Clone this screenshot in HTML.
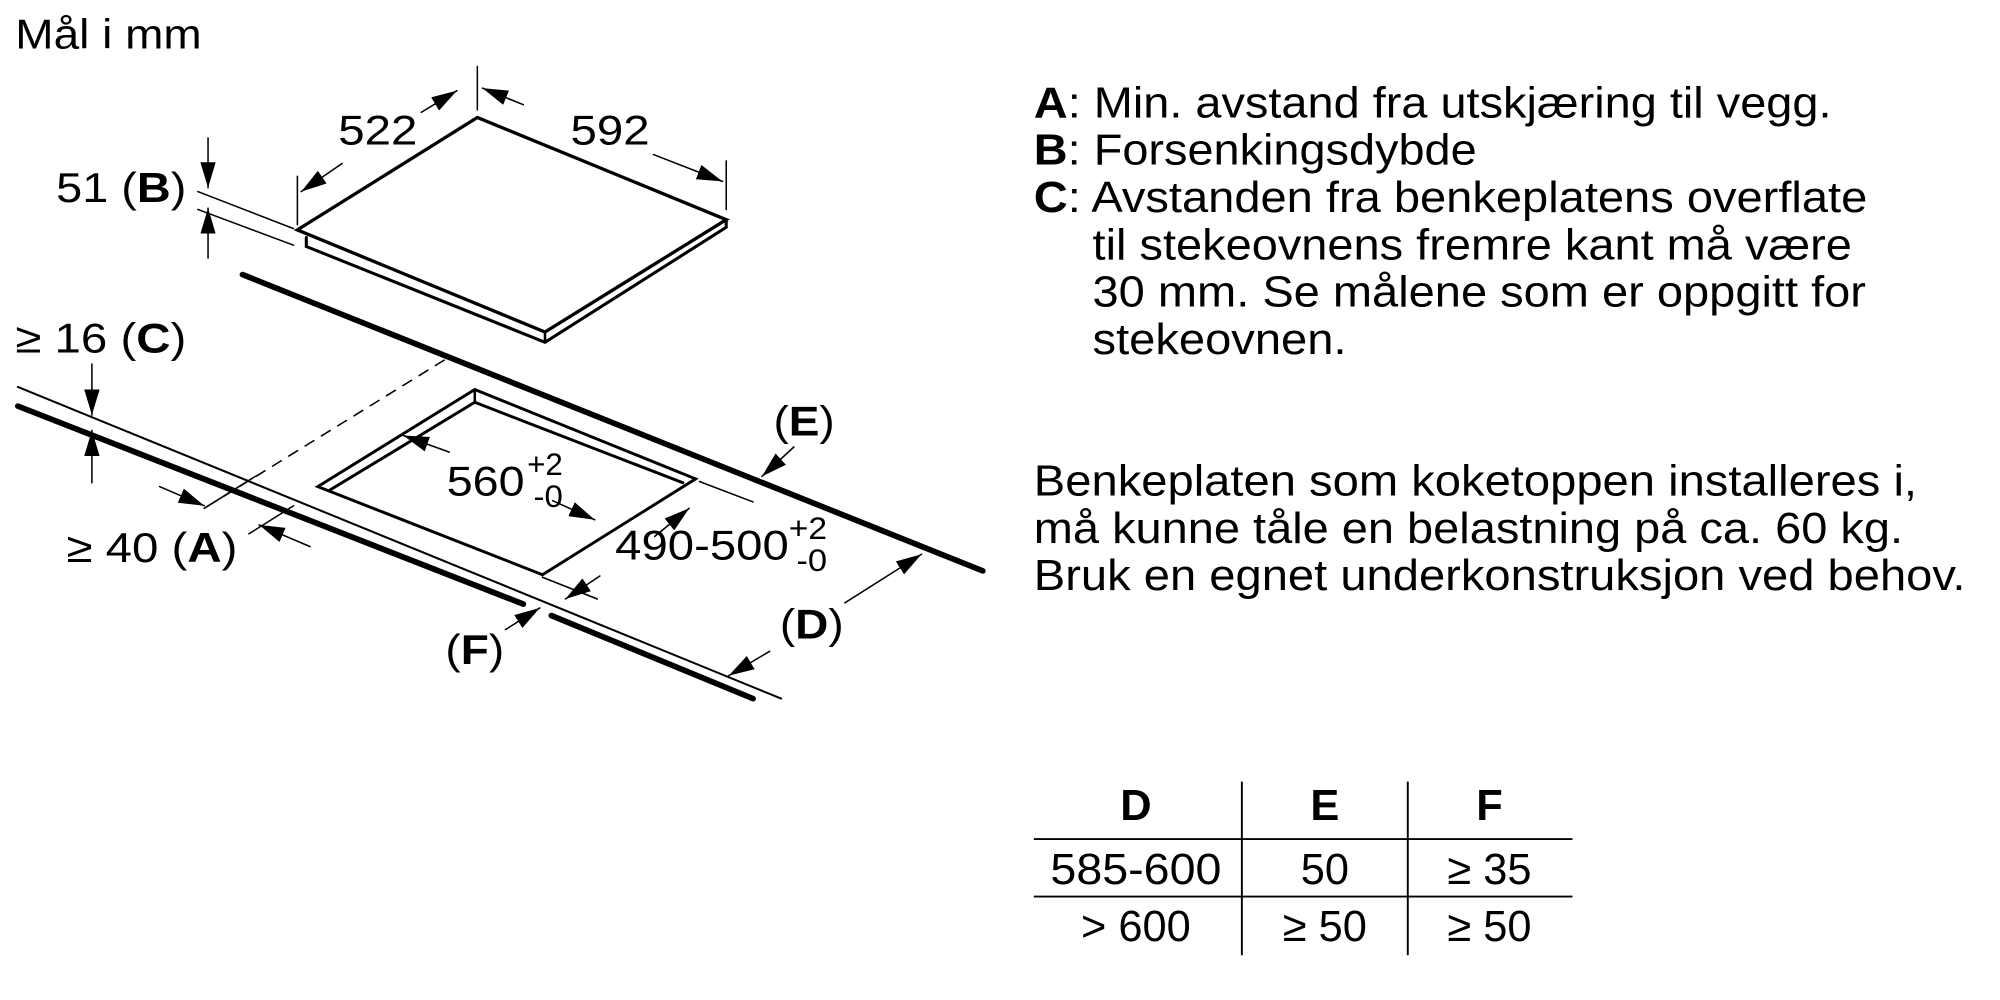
<!DOCTYPE html>
<html><head><meta charset="utf-8"><style>
html,body{margin:0;padding:0;background:#fff;width:2000px;height:1000px;overflow:hidden}
svg{display:block}
text{font-family:"Liberation Sans",Arial,sans-serif;fill:#000}
</style></head><body>
<svg width="2000" height="1000" viewBox="0 0 1567 783" preserveAspectRatio="none" xmlns="http://www.w3.org/2000/svg">
<defs>
<marker id="ab" viewBox="0 0 20 12" refX="20" refY="6" markerWidth="20" markerHeight="12" orient="auto" markerUnits="userSpaceOnUse"><path d="M0,0 L20,6 L0,12 z" fill="#000"/></marker>
</defs>
<g stroke="#000" fill="none" stroke-linecap="round">
<polygon points="233,180 374,92 569,172 427,260" stroke-width="2.6" fill="#fff"/>
<polyline points="240,186 240,193 427,268 569,178 569,172" stroke-width="2.4"/>
<line x1="427" y1="260" x2="427" y2="268" stroke-width="2"/>
<line x1="190" y1="215" x2="770" y2="447" stroke-width="4.5"/>
<line x1="14" y1="303" x2="612" y2="547" stroke-width="1.6"/>
<line x1="14" y1="318" x2="410" y2="473" stroke-width="4.5"/>
<line x1="432" y1="482" x2="590" y2="547" stroke-width="4.5"/>
<polygon points="249,381 372,305 545,375 425,450" stroke-width="2.3"/>
<polyline points="258,384 372,315 535,378" stroke-width="2.3"/>
<line x1="372" y1="305" x2="372" y2="315" stroke-width="2"/>
<line x1="348" y1="282" x2="160" y2="398" stroke-width="1.2" stroke-dasharray="8,7"/>
<line x1="374" y1="52" x2="374" y2="86" stroke-width="1.2"/>
<line x1="233" y1="138" x2="233" y2="176" stroke-width="1.2"/>
<line x1="569" y1="126" x2="569" y2="164" stroke-width="1.2"/>
<line x1="155" y1="150" x2="230" y2="179" stroke-width="1.2"/>
<line x1="155" y1="164" x2="230" y2="192" stroke-width="1.2"/>
<line x1="160" y1="398" x2="200" y2="373" stroke-width="1.2"/>
<line x1="195" y1="418" x2="230" y2="396" stroke-width="1.2"/>
<line x1="548" y1="377" x2="590" y2="393" stroke-width="1.2"/>
<line x1="425" y1="452" x2="468" y2="469" stroke-width="1.2"/>
<g stroke-width="1.2">
<line x1="330" y1="88" x2="358" y2="71" marker-end="url(#ab)"/>
<line x1="268" y1="128" x2="236" y2="150" marker-end="url(#ab)"/>
<line x1="410" y1="82" x2="378" y2="69" marker-end="url(#ab)"/>
<line x1="512" y1="121" x2="566" y2="142" marker-end="url(#ab)"/>
<line x1="163" y1="108" x2="163" y2="147" marker-end="url(#ab)"/>
<line x1="163" y1="202" x2="163" y2="163" marker-end="url(#ab)"/>
<line x1="72" y1="285" x2="72" y2="325" marker-end="url(#ab)"/>
<line x1="72" y1="378" x2="72" y2="337" marker-end="url(#ab)"/>
<line x1="125" y1="381" x2="160" y2="396" marker-end="url(#ab)"/>
<line x1="243" y1="428" x2="203" y2="411" marker-end="url(#ab)"/>
<line x1="352" y1="354" x2="316" y2="341" marker-end="url(#ab)"/>
<line x1="433" y1="392" x2="466" y2="407" marker-end="url(#ab)"/>
<line x1="513" y1="420" x2="540" y2="398" marker-end="url(#ab)"/>
<line x1="470" y1="451" x2="443" y2="469" marker-end="url(#ab)"/>
<line x1="622" y1="350" x2="597" y2="373" marker-end="url(#ab)"/>
<line x1="662" y1="472" x2="722" y2="434" marker-end="url(#ab)"/>
<line x1="603" y1="510" x2="571" y2="529" marker-end="url(#ab)"/>
<line x1="396" y1="493" x2="423" y2="476" marker-end="url(#ab)"/>
</g>
</g>
<g font-size="33">
<text x="12" y="38" textLength="146" lengthAdjust="spacingAndGlyphs">Mål i mm</text>
<text x="265" y="113" textLength="62" lengthAdjust="spacingAndGlyphs">522</text>
<text x="447" y="113" textLength="62" lengthAdjust="spacingAndGlyphs">592</text>
<text x="44" y="158" textLength="102" lengthAdjust="spacingAndGlyphs">51 (<tspan font-weight="bold">B</tspan>)</text>
<text x="12" y="276" textLength="134" lengthAdjust="spacingAndGlyphs">≥ 16 (<tspan font-weight="bold">C</tspan>)</text>
<text x="52" y="440" textLength="134" lengthAdjust="spacingAndGlyphs">≥ 40 (<tspan font-weight="bold">A</tspan>)</text>
<text x="606" y="341" textLength="48" lengthAdjust="spacingAndGlyphs">(<tspan font-weight="bold">E</tspan>)</text>
<text x="611" y="500" textLength="50" lengthAdjust="spacingAndGlyphs">(<tspan font-weight="bold">D</tspan>)</text>
<text x="349" y="520" textLength="46" lengthAdjust="spacingAndGlyphs">(<tspan font-weight="bold">F</tspan>)</text>
<text x="350" y="388" textLength="61" lengthAdjust="spacingAndGlyphs">560</text>
<text x="482" y="438" textLength="136" lengthAdjust="spacingAndGlyphs">490-500</text>
</g>
<g font-size="25">
<text x="413" y="372" textLength="28" lengthAdjust="spacingAndGlyphs">+2</text>
<text x="418" y="397" textLength="23" lengthAdjust="spacingAndGlyphs">-0</text>
<text x="618" y="422" textLength="30" lengthAdjust="spacingAndGlyphs">+2</text>
<text x="624" y="447" textLength="24" lengthAdjust="spacingAndGlyphs">-0</text>
</g>
<g font-size="34">
<text x="810" y="92" textLength="625" lengthAdjust="spacingAndGlyphs"><tspan font-weight="bold">A</tspan>: Min. avstand fra utskjæring til vegg.</text>
<text x="810" y="129" textLength="347" lengthAdjust="spacingAndGlyphs"><tspan font-weight="bold">B</tspan>: Forsenkingsdybde</text>
<text x="810" y="166" textLength="653" lengthAdjust="spacingAndGlyphs"><tspan font-weight="bold">C</tspan>: Avstanden fra benkeplatens overflate</text>
<text x="856" y="203" textLength="595" lengthAdjust="spacingAndGlyphs">til stekeovnens fremre kant må være</text>
<text x="856" y="240" textLength="606" lengthAdjust="spacingAndGlyphs">30 mm. Se målene som er oppgitt for</text>
<text x="856" y="277" textLength="199" lengthAdjust="spacingAndGlyphs">stekeovnen.</text>
<text x="810" y="388" textLength="692" lengthAdjust="spacingAndGlyphs">Benkeplaten som koketoppen installeres i,</text>
<text x="810" y="425" textLength="681" lengthAdjust="spacingAndGlyphs">må kunne tåle en belastning på ca. 60 kg.</text>
<text x="810" y="462" textLength="730" lengthAdjust="spacingAndGlyphs">Bruk en egnet underkonstruksjon ved behov.</text>
<g text-anchor="middle">
<text x="890" y="642" font-weight="bold">D</text>
<text x="1038" y="642" font-weight="bold">E</text>
<text x="1167" y="642" font-weight="bold">F</text>
<text x="890" y="692" textLength="134" lengthAdjust="spacingAndGlyphs">585-600</text>
<text x="1038" y="692">50</text>
<text x="1167" y="692">≥ 35</text>
<text x="890" y="737">&gt; 600</text>
<text x="1038" y="737">≥ 50</text>
<text x="1167" y="737">≥ 50</text>
</g>
</g>
<g stroke="#000" stroke-width="1.5">
<line x1="973" y1="612" x2="973" y2="748"/>
<line x1="1103" y1="612" x2="1103" y2="748"/>
<line x1="810" y1="657" x2="1232" y2="657"/>
<line x1="810" y1="702" x2="1232" y2="702"/>
</g>
</svg>
</body></html>
